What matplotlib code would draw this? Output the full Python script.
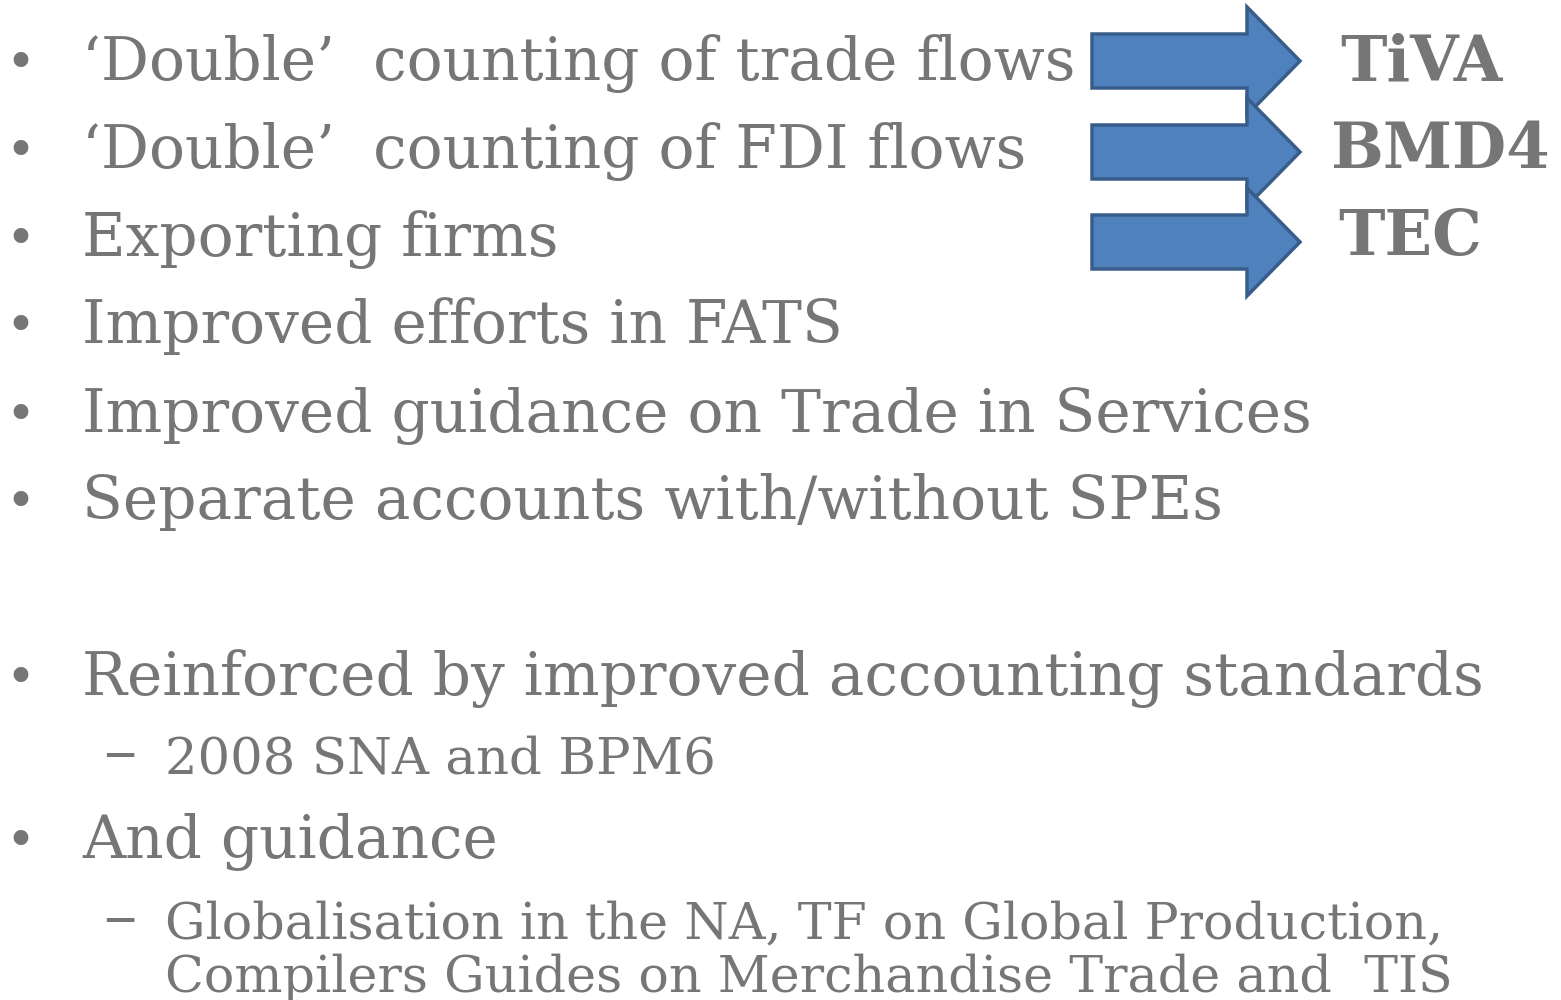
import matplotlib
matplotlib.use("Agg")
import matplotlib.pyplot as plt
from matplotlib.patches import Polygon

W, H = 1561, 1000
GRAY = "#767676"
FILL = "#4F81BD"
EDGE = "#385D8A"
SERIF = ["DejaVu Serif"]

main_items = [
    "\u2018Double\u2019  counting of trade flows",
    "\u2018Double\u2019  counting of FDI flows",
    "Exporting firms",
    "Improved efforts in FATS",
    "Improved guidance on Trade in Services",
    "Separate accounts with/without SPEs",
]
main_baselines = [80, 168, 256, 343, 432, 519]

arrow_labels = ["TiVA", "BMD4", "TEC"]
label_baselines = [80, 168, 255]
label_x = [1340, 1330, 1338]

arrow_centers = [61, 152, 242]

fig = plt.figure(figsize=(W / 100, H / 100), dpi=100)
ax = fig.add_axes([0, 0, 1, 1])
ax.set_xlim(0, W)
ax.set_ylim(H, 0)
ax.axis("off")

FS = 43
SUBFS = 37
SUB2FS = 36.5

def bullet(y):
    ax.text(20, y, "\u2022", fontsize=FS * 0.85, color=GRAY, family=SERIF,
            ha="center", va="baseline")

def dash(y):
    ax.text(120, y, "\u2013", fontsize=48, color=GRAY, family=SERIF,
            ha="center", va="baseline")

for txt, y in zip(main_items, main_baselines):
    bullet(y - 2)
    ax.text(82, y, txt, fontsize=FS, color=GRAY, family=SERIF, va="baseline", ha="left")

# arrows
for cy in arrow_centers:
    x0, xb, xt = 1092, 1247, 1300
    bh, hh = 27, 54
    pts = [(x0, cy - bh), (xb, cy - bh), (xb, cy - hh), (xt, cy),
           (xb, cy + hh), (xb, cy + bh), (x0, cy + bh)]
    ax.add_patch(Polygon(pts, closed=True, facecolor=FILL, edgecolor=EDGE, lw=2.5))

for txt, x, y in zip(arrow_labels, label_x, label_baselines):
    ax.text(x, y, txt, fontsize=45, color=GRAY, family=SERIF, weight="bold",
            va="baseline", ha="left")

# lower block
bullet(693)
ax.text(82, 695, "Reinforced by improved accounting standards", fontsize=FS, color=GRAY,
        family=SERIF, va="baseline")
dash(773)
ax.text(165, 773, "2008 SNA and BPM6", fontsize=SUBFS, color=GRAY, family=SERIF, va="baseline")

bullet(856)
ax.text(82, 858, "And guidance", fontsize=FS, color=GRAY, family=SERIF, va="baseline")
dash(938)
ax.text(165, 938, "Globalisation in the NA, TF on Global Production,", fontsize=SUB2FS,
        color=GRAY, family=SERIF, va="baseline")
ax.text(165, 992, "Compilers Guides on Merchandise Trade and  TIS", fontsize=SUB2FS,
        color=GRAY, family=SERIF, va="baseline")

fig.savefig("out.png", dpi=100, facecolor="white")
